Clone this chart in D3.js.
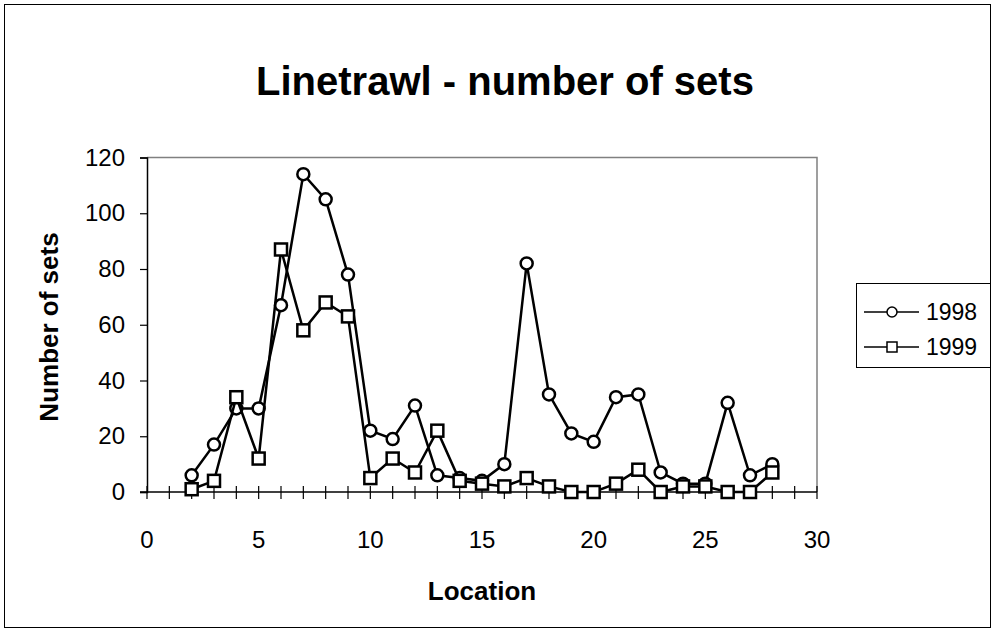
<!DOCTYPE html>
<html>
<head>
<meta charset="utf-8">
<script src="https://cdn.jsdelivr.net/npm/d3@7"></script>
<style>
  html, body { margin: 0; padding: 0; background: #fff; }
  svg { display: block; font-family: "Liberation Sans", Arial, sans-serif; }
</style>
</head>
<body>
<div id="stage"></div>
<script>
(function(d3) {
    'use strict';

    var locations = [2, 3, 4, 5, 6, 7, 8, 9, 10, 11, 12, 13, 14, 15, 16, 17, 18, 19, 20, 21, 22, 23, 24, 25, 26, 27, 28];
    var sets1998 = [6, 17, 30, 30, 67, 114, 105, 78, 22, 19, 31, 6, 5, 4, 10, 82, 35, 21, 18, 34, 35, 7, 3, 3, 32, 6, 10];
    var sets1999 = [1, 4, 34, 12, 87, 58, 68, 63, 5, 12, 7, 22, 4, 3, 2, 5, 2, 0, 0, 3, 8, 0, 2, 2, 0, 0, 7];
    var xTicks = [0, 5, 10, 15, 20, 25, 30];
    var yTicks = [0, 20, 40, 60, 80, 100, 120];
    var seriesNames = ['1998', '1999'];

    var W = 992, H = 631;
    var plot = { left: 147, top: 157.5, right: 817, bottom: 492 };

    var svg = d3.select('#stage')
        .append('svg')
        .attr('width', W)
        .attr('height', H);

    // chart frame
    svg.append('rect')
        .attr('x', 4.5).attr('y', 4.5)
        .attr('width', W - 6).attr('height', H - 8)
        .attr('fill', '#fff')
        .attr('stroke', '#000')
        .attr('stroke-width', 1);

    var x = d3.scaleLinear().domain([0, 30]).range([plot.left, plot.right]);
    var y = d3.scaleLinear().domain([0, 120]).range([plot.bottom, plot.top]);

    // plot area border (top/right grey)
    svg.append('path')
        .attr('d', 'M' + plot.left + ',' + plot.top + 'H' + plot.right + 'V' + plot.bottom)
        .attr('fill', 'none')
        .attr('stroke', '#808080')
        .attr('stroke-width', 1.5);

    svg.append('text')
        .attr('x', 505).attr('y', 95)
        .attr('text-anchor', 'middle')
        .style('font-size', '40px')
        .style('font-weight', 'bold')
        .text('Linetrawl - number of sets');

    // y axis
    var yAxis = d3.axisLeft(y)
        .tickValues(yTicks)
        .tickSize(7)
        .tickPadding(15)
        .tickFormat(d3.format('d'));
    var gy = svg.append('g')
        .attr('transform', 'translate(' + plot.left + ',0)')
        .call(yAxis);
    gy.select('.domain').attr('stroke', '#000').attr('stroke-width', 1.5);
    gy.selectAll('.tick line').attr('stroke', '#000').attr('stroke-width', 1.2);
    gy.selectAll('.tick text')
        .style('font-size', '24px')
        .style('font-family', '"Liberation Sans", Arial, sans-serif')
        .attr('fill', '#000');

    // x axis: crossing ticks at every unit
    var gx = svg.append('g')
        .attr('transform', 'translate(0,' + plot.bottom + ')');
    gx.append('line')
        .attr('x1', plot.left - 7).attr('x2', plot.right)
        .attr('stroke', '#000').attr('stroke-width', 1.5);
    gx.selectAll('.minor')
        .data(d3.range(0, 31))
        .enter()
        .append('line')
        .attr('class', 'minor')
        .attr('x1', function(d) { return x(d); })
        .attr('x2', function(d) { return x(d); })
        .attr('y1', -6).attr('y2', 7)
        .attr('stroke', '#000')
        .attr('stroke-width', 1.2);
    gx.selectAll('.lbl')
        .data(xTicks)
        .enter()
        .append('text')
        .attr('class', 'lbl')
        .attr('x', function(d) { return x(d); })
        .attr('y', 56)
        .attr('text-anchor', 'middle')
        .style('font-size', '24px')
        .text(function(d) { return d; });

    svg.append('text')
        .attr('x', 482).attr('y', 600)
        .attr('text-anchor', 'middle')
        .style('font-size', '26px')
        .style('font-weight', 'bold')
        .text('Location');

    svg.append('text')
        .attr('transform', 'translate(58,327) rotate(-90)')
        .attr('text-anchor', 'middle')
        .style('font-size', '26px')
        .style('font-weight', 'bold')
        .text('Number of sets');

    var line = d3.line()
        .x(function(d) { return x(d[0]); })
        .y(function(d) { return y(d[1]); });

    var s98 = d3.zip(locations, sets1998),
        s99 = d3.zip(locations, sets1999);

    // 1998 - circles
    svg.append('path')
        .datum(s98)
        .attr('d', line)
        .attr('fill', 'none')
        .attr('stroke', '#000')
        .attr('stroke-width', 2.5);
    svg.selectAll('.c98')
        .data(s98)
        .enter()
        .append('circle')
        .attr('class', 'c98')
        .attr('cx', function(d) { return x(d[0]); })
        .attr('cy', function(d) { return y(d[1]); })
        .attr('r', 6)
        .attr('fill', '#fff')
        .attr('stroke', '#000')
        .attr('stroke-width', 2.5);

    // 1999 - squares
    svg.append('path')
        .datum(s99)
        .attr('d', line)
        .attr('fill', 'none')
        .attr('stroke', '#000')
        .attr('stroke-width', 2.5);
    svg.selectAll('.q99')
        .data(s99)
        .enter()
        .append('rect')
        .attr('class', 'q99')
        .attr('x', function(d) { return x(d[0]) - 6; })
        .attr('y', function(d) { return y(d[1]) - 6; })
        .attr('width', 12)
        .attr('height', 12)
        .attr('fill', '#fff')
        .attr('stroke', '#000')
        .attr('stroke-width', 2.5);

    // legend
    var legend = svg.append('g').attr('transform', 'translate(856,283)');
    legend.append('rect')
        .attr('x', 0.5).attr('y', 0.5)
        .attr('width', 134).attr('height', 84)
        .attr('fill', '#fff')
        .attr('stroke', '#000')
        .attr('stroke-width', 1);
    var items = legend.selectAll('.item')
        .data(seriesNames)
        .enter()
        .append('g')
        .attr('class', 'item')
        .attr('transform', function(d, i) { return 'translate(0,' + (29 + i * 35) + ')'; });
    items.append('line')
        .attr('x1', 8).attr('x2', 63)
        .attr('stroke', '#000').attr('stroke-width', 1.5);
    items.each(function(d, i) {
        var g = d3.select(this);
        if (i === 0) {
            g.append('circle').attr('cx', 36).attr('r', 5)
                .attr('fill', '#fff').attr('stroke', '#000').attr('stroke-width', 1.5);
        } else {
            g.append('rect').attr('x', 31).attr('y', -5).attr('width', 10).attr('height', 10)
                .attr('fill', '#fff').attr('stroke', '#000').attr('stroke-width', 1.5);
        }
    });
    items.append('text')
        .attr('x', 70).attr('y', 8)
        .style('font-size', '23px')
        .text(function(d) { return d; });

})(window.d3);
</script>
</body>
</html>
